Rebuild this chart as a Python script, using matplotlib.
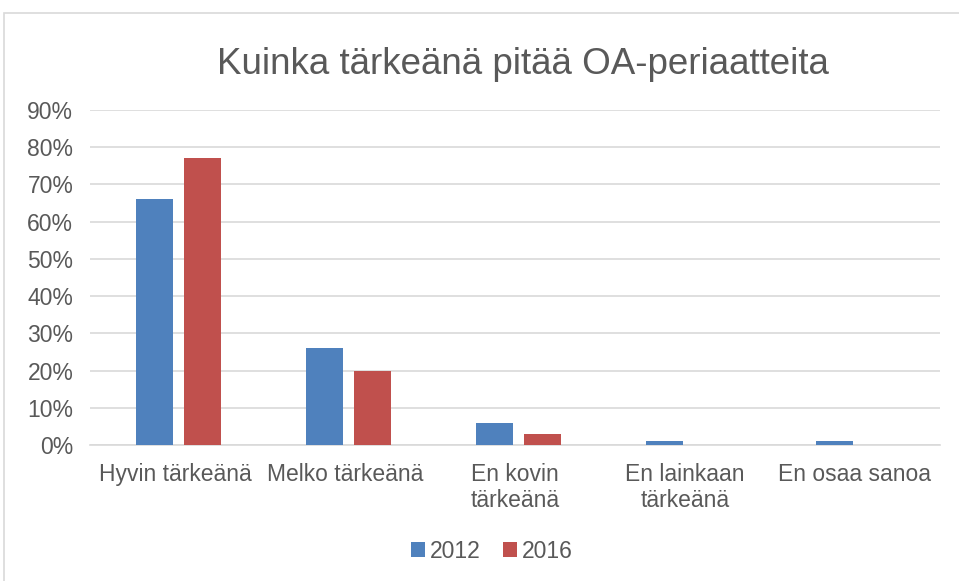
import matplotlib
matplotlib.use("Agg")
import matplotlib.pyplot as plt
import numpy as np
from matplotlib.patches import Rectangle

categories = ["Hyvin tärkeänä", "Melko tärkeänä", "En kovin\ntärkeänä", "En lainkaan\ntärkeänä", "En osaa sanoa"]
values_2012 = [0.66, 0.26, 0.06, 0.01, 0.01]
values_2016 = [0.77, 0.20, 0.03, 0.0, 0.0]
series_names = ["2012", "2016"]
yticks = [0, 0.1, 0.2, 0.3, 0.4, 0.5, 0.6, 0.7, 0.8, 0.9]
ytick_labels = ["0%", "10%", "20%", "30%", "40%", "50%", "60%", "70%", "80%", "90%"]

plt.rcParams['font.family'] = ['Liberation Sans', 'DejaVu Sans']
text_color = '#595959'
fs = 16.5

fig = plt.figure(figsize=(9.59, 5.81), dpi=100)
fig.patches.append(Rectangle((4/959, -0.01), 1.0, 1 - 13/581 + 0.01, transform=fig.transFigure,
                             fill=False, edgecolor='#d9d9d9', linewidth=1.2))
ax = fig.add_axes([90/959, 1 - 445/581, 850/959, 335/581])

x = np.arange(len(categories))
w = 0.22
gap = 0.06
ax.bar(x - (w + gap) / 2 + 0.02, values_2012, width=w, color='#4f81bd', label=series_names[0], zorder=3)
ax.bar(x + (w + gap) / 2 + 0.02, values_2016, width=w, color='#c0504d', label=series_names[1], zorder=3)

ax.set_xlim(-0.5, len(categories) - 0.5)
ax.set_ylim(0, 0.9)
ax.set_yticks(yticks)
ax.set_yticklabels(ytick_labels, fontsize=fs, color=text_color)
ax.set_xticks(x)
ax.set_xticklabels(categories, fontsize=fs, color=text_color, linespacing=1.15)
ax.tick_params(axis='y', length=0, pad=12)
ax.tick_params(axis='x', length=0, pad=13)
ax.grid(axis='y', color='#d9d9d9', linewidth=1.2, zorder=0)
for s in ['top', 'right', 'left']:
    ax.spines[s].set_visible(False)
ax.spines['bottom'].set_color('#d9d9d9')
ax.spines['bottom'].set_linewidth(1.2)

fig.text(523/959, 1 - 65/581, "Kuinka tärkeänä pitää OA-periaatteita", ha='center', va='center',
         fontsize=26.5, color=text_color)

fig.legend(loc='center', bbox_to_anchor=(492/959, 1 - 551/581), ncol=2, frameon=False,
           fontsize=fs, handlelength=0.6, handleheight=0.6, handletextpad=0.2, columnspacing=1.0,
           labelcolor=text_color)

fig.savefig("out.png", dpi=100)
